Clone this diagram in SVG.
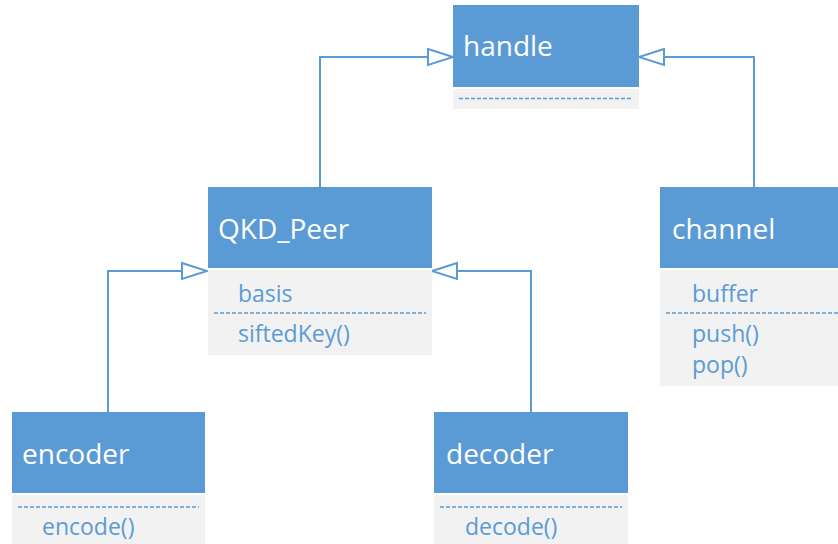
<svg xmlns="http://www.w3.org/2000/svg" width="838" height="544" viewBox="0 0 838 544">
<defs>
<style>
.hdr{fill:#5B9BD5}
.body{fill:#F2F2F2}
.title{font-family:"Open Sans","Liberation Sans",sans-serif;font-size:28px;fill:#FFFFFF}
.mem{font-family:"Open Sans","Liberation Sans",sans-serif;font-size:23px;fill:#5B9BD5}
.dash{stroke:#5B9BD5;stroke-width:1.6;stroke-dasharray:4 2;fill:none}
.conn{stroke:#5B9BD5;stroke-width:2;fill:none}
.head{stroke:#5B9BD5;stroke-width:2;fill:#FFFFFF}
</style>
</defs>
<rect width="838" height="544" fill="#FFFFFF"/>
<g id="connectors">
<polyline class="conn" points="320,187 320,57 428,57"/>
<polygon class="head" points="428,49 453,57 428,65"/>
<polyline class="conn" points="754,187 754,57 664,57"/>
<polygon class="head" points="664,49 639,57 664,65"/>
<polyline class="conn" points="108,412 108,271 182,271"/>
<polygon class="head" points="182,263 207,271 182,279"/>
<polyline class="conn" points="531,412 531,271 457,271"/>
<polygon class="head" points="457,263 432,271 457,279"/>
</g>
<g id="handle">
<rect class="hdr" x="453" y="5" width="186" height="82"/>
<rect class="body" x="453" y="89" width="186" height="20"/>
<text class="title" x="463" y="56">handle</text>
<line class="dash" x1="459" y1="98.5" x2="632" y2="98.5"/>
</g>
<g id="QKD_Peer">
<rect class="hdr" x="208" y="187" width="224" height="81"/>
<rect class="body" x="208" y="270" width="224" height="85"/>
<text class="title" x="218" y="239">QKD_Peer</text>
<text class="mem" x="238" y="302">basis</text>
<line class="dash" x1="214" y1="313" x2="426" y2="313"/>
<text class="mem" x="238" y="342">siftedKey()</text>
</g>
<g id="channel">
<rect class="hdr" x="660" y="187" width="178" height="81"/>
<rect class="body" x="660" y="270" width="178" height="116"/>
<text class="title" x="672" y="239">channel</text>
<text class="mem" x="692" y="302">buffer</text>
<line class="dash" x1="666" y1="313" x2="838" y2="313"/>
<text class="mem" x="692" y="342">push()</text>
<text class="mem" x="692" y="373">pop()</text>
</g>
<g id="encoder">
<rect class="hdr" x="12" y="412" width="193" height="81"/>
<rect class="body" x="12" y="495" width="193" height="49"/>
<text class="title" x="22" y="464">encoder</text>
<line class="dash" x1="18" y1="507" x2="199" y2="507"/>
<text class="mem" x="42" y="535">encode()</text>
</g>
<g id="decoder">
<rect class="hdr" x="434" y="412" width="194" height="81"/>
<rect class="body" x="434" y="495" width="194" height="49"/>
<text class="title" x="446" y="464">decoder</text>
<line class="dash" x1="440" y1="507" x2="622" y2="507"/>
<text class="mem" x="465" y="535">decode()</text>
</g>
</svg>
